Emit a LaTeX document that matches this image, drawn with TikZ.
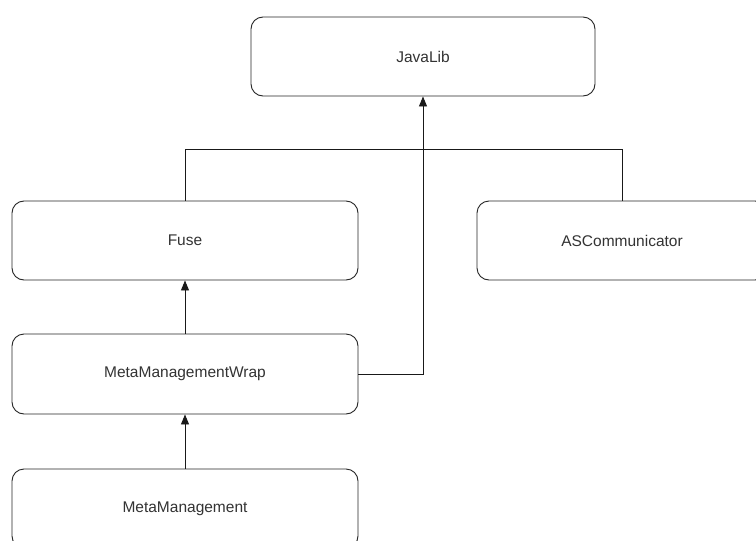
\documentclass[tikz,border=0pt]{standalone}
\usepackage{fontspec}
\setmainfont{Liberation Sans}
\usetikzlibrary{arrows.meta}
\definecolor{txt}{HTML}{333333}
\begin{document}
\begin{tikzpicture}[x=1pt,y=-1pt,
  box/.style={draw=black!85,line width=0.9pt,rounded corners=12pt,minimum height=79pt,inner sep=0pt,
    text=txt,font=\fontsize{15.5}{18}\selectfont},
  conn/.style={draw=black!90,line width=0.9pt},
  arr/.style={conn,-{Triangle[width=8pt,length=10pt]}}]
\useasboundingbox (0,0) rectangle (756,541);
\clip (0,0) rectangle (756,541);
\fill[white] (0,0) rectangle (756,541);
\node[box,minimum width=344pt] (javalib) at (423,56.5) {JavaLib};
\node[box,minimum width=346pt] (fuse) at (185,240.5) {Fuse};
\node[box,minimum width=290pt] (asc) at (622,240.5) {ASCommunicator};
\node[box,minimum width=346pt,minimum height=80pt] (mmw) at (185,374) {MetaManagementWrap};
\node[box,minimum width=346pt] (mm) at (185,508.5) {MetaManagement};
\coordinate (bus) at (185,149);
\draw[conn] (fuse.north) -- (bus) -| (asc.north);
\draw[arr] (mmw.east) -| (javalib.south);
\draw[arr] (mmw.north) -- (fuse.south);
\draw[arr] (mm.north) -- (mmw.south);
\end{tikzpicture}
\end{document}
